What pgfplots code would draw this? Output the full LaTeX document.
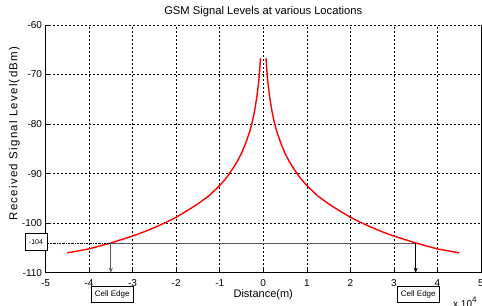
\documentclass[border=0pt]{standalone}
\usepackage{fontspec}
\setmainfont{Liberation Sans}
\newfontfamily\ylabfont[LetterSpace=10.7]{Liberation Sans}
\usepackage{pgfplots}
\pgfplotsset{compat=1.18}
\usetikzlibrary{arrows.meta}
\begin{document}
\begin{tikzpicture}
\begin{axis}[
  scale only axis,
  width=435.5pt, height=247.7pt,
  xmin=-5, xmax=5, ymin=-110, ymax=-60,
  xtick={-5,-4,...,5}, ytick={-110,-100,...,-60},
  axis x line*=bottom, axis y line*=left,
  axis line style={-, line width=0.9pt, black},
  tick align=inside, major tick length=4pt,
  tick style={black, line width=0.6pt},
  grid=major,
  major grid style={black, line width=0.5pt, dash pattern=on 2pt off 2pt},
  /pgf/number format/assume math mode=true,
  tick label style={font=\fontsize{10}{12}\selectfont},
  xticklabel style={yshift=-3pt},
  title={GSM Signal Levels at various Locations},
  title style={at={(0.5,1)}, anchor=base, yshift=4.5pt, font=\fontsize{11.2}{13}\selectfont},
  xlabel={Distance(m)},
  xlabel style={at={(0.5,0)}, anchor=base, yshift=-24.5pt, font=\fontsize{11}{13}\selectfont},
  ylabel={\ylabfont Received Signal Level(dBm)},
  ylabel style={at={(0,0.562)}, anchor=center, yshift=31pt, font=\fontsize{11.5}{13}\selectfont},
  clip=false,
]
% left branch
\addplot[red, line width=1.4pt] coordinates {
(-4.5,-106.0) (-4.25,-105.6) (-4,-105.2) (-3.75,-104.6) (-3.5,-104.0) (-3.25,-103.3) (-3,-102.6)
(-2.75,-101.8) (-2.5,-100.9) (-2.25,-99.9) (-2,-98.8) (-1.75,-97.5)
(-1.5,-96.1) (-1.25,-94.5) (-1,-92.4) (-0.85,-90.9) (-0.7,-89.0) (-0.6,-87.6) (-0.5,-85.9) (-0.4,-83.8) (-0.3,-81.2)
(-0.25,-79.5) (-0.2,-77.4) (-0.15,-74.7) (-0.12,-72.6) (-0.1,-71.0)
(-0.09,-70.0) (-0.08,-68.9) (-0.07,-67.6) (-0.063,-66.7)};
% right branch
\addplot[red, line width=1.4pt] coordinates {
(0.063,-66.7) (0.07,-67.6) (0.08,-68.9) (0.09,-70.0) (0.1,-71.0) (0.12,-72.6)
(0.15,-74.7) (0.2,-77.4) (0.25,-79.5) (0.3,-81.2) (0.4,-83.8) (0.5,-85.9) (0.6,-87.6) (0.7,-89.0) (0.85,-90.9)
(1,-92.4) (1.25,-94.5) (1.5,-96.1) (1.75,-97.5) (2,-98.8) (2.25,-99.9) (2.5,-100.9) (2.75,-101.8) (3,-102.6) (3.25,-103.3)
(3.5,-104.0) (3.75,-104.6) (4,-105.2) (4.25,-105.6) (4.5,-106.0)};
% cell edge reference lines
\addplot[black, line width=0.5pt, dash pattern=on 2pt off 1pt on 0.5pt off 1pt] coordinates {(-5,-104) (-3.5,-104)};
\addplot[black!65, line width=0.8pt] coordinates {(-3.5,-104) (3.5,-104)};
\draw[black!65, line width=0.8pt, -{Stealth[length=5pt,width=4pt]}] (axis cs:-3.5,-104) -- (axis cs:-3.5,-110);
\draw[black, line width=0.8pt, -{Stealth[length=5pt,width=4pt]}] (axis cs:3.5,-104) -- (axis cs:3.5,-110);
\node[draw, black, fill=white, line width=0.6pt, minimum width=22pt, minimum height=17pt, inner sep=0pt, font=\fontsize{7}{8}\selectfont, xshift=-9.5pt, yshift=1pt] at (axis cs:-5,-104) {-104};
\node[draw, black, fill=white, line width=0.6pt, minimum width=42pt, minimum height=16pt, inner sep=0pt, font=\fontsize{8}{9}\selectfont, yshift=-21.8pt] at (axis cs:-3.47,-110) {Cell Edge};
\node[draw, black, fill=white, line width=0.6pt, minimum width=42pt, minimum height=16pt, inner sep=0pt, font=\fontsize{8}{9}\selectfont, yshift=-21.8pt] at (axis cs:3.56,-110) {Cell Edge};
\draw[black, line width=0.9pt] (rel axis cs:1,0) -- (rel axis cs:1,1);
\node[anchor=base west, inner sep=0pt, font=\fontsize{10}{12}\selectfont, xshift=-28pt, yshift=-35pt] at (rel axis cs:1,0) {x 10\raisebox{5pt}{\fontsize{8}{9}\selectfont 4}};
\end{axis}
\pgfresetboundingbox
\path[use as bounding box] ([shift={(-45.5pt,-33.3pt)}]current axis.south west) rectangle ([shift={(1pt,25pt)}]current axis.north east);
\end{tikzpicture}
\end{document}
